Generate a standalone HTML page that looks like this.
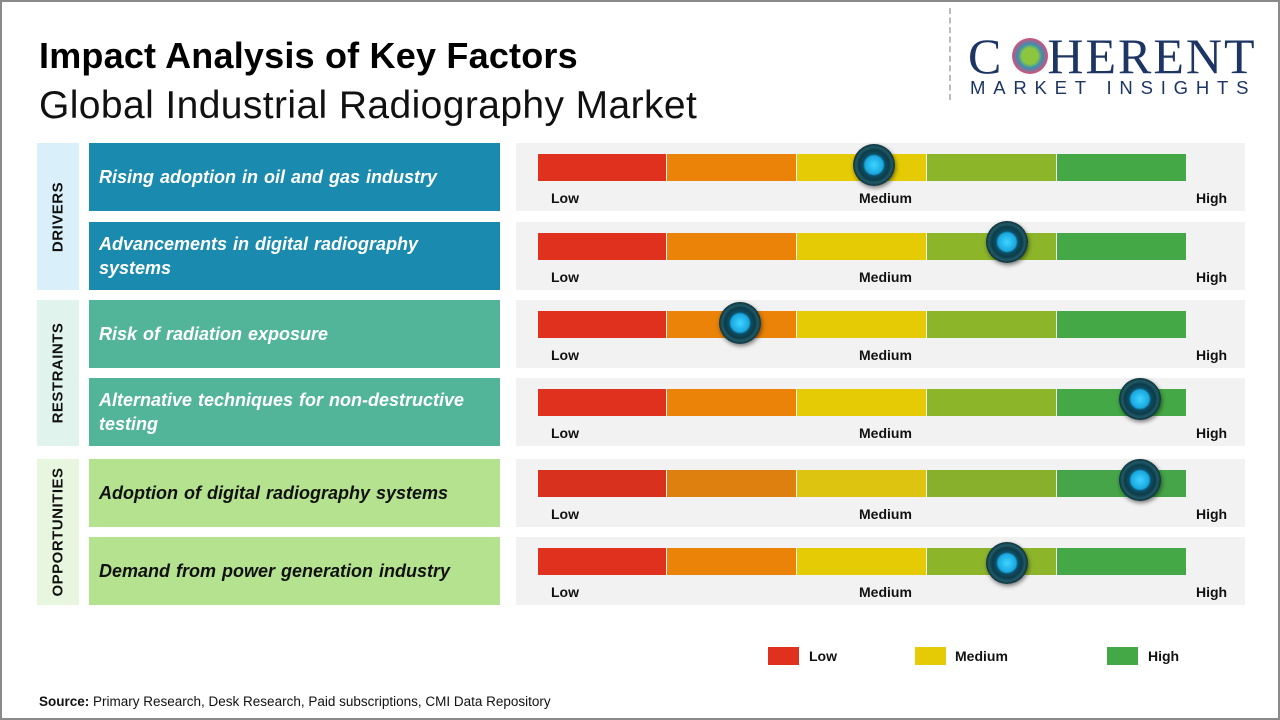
<!DOCTYPE html>
<html><head><meta charset="utf-8"><style>
*{margin:0;padding:0;box-sizing:border-box}
body{width:1280px;height:720px;position:relative;background:#fff;font-family:"Liberation Sans",sans-serif;overflow:hidden}
.frame{position:absolute;left:0;top:0;width:1280px;height:720px;border:2px solid #8a8a8a}
.a{position:absolute}
.cat{position:absolute;left:37px;width:42px}
.cat span{position:absolute;left:50%;top:50%;transform:translate(-50%,-50%) rotate(-90deg);font-weight:bold;font-size:15px;color:#111;white-space:nowrap;letter-spacing:0.5px}
.box{position:absolute;left:89px;width:411px;height:68px;display:flex;align-items:center;padding-left:10px;padding-right:10px;font-style:italic;font-weight:bold;font-size:18px;line-height:24px;word-spacing:1px}
.panel{position:absolute;left:516px;width:729px;height:68px;background:#f2f2f2}
.seg{position:absolute;top:11px;height:27px}
.lbl{position:absolute;top:47px;font-weight:bold;font-size:14px;color:#111}
.knob{position:absolute;width:42px;height:42px;border-radius:50%;background:radial-gradient(circle at 50% 50%,#3fd4ff 0,#1aa8e0 9px,#0c4f66 11px,#0e3b48 15px,#1f5a66 18px,#0c2e38 21px);box-shadow:1px 2px 4px rgba(0,0,0,.5)}
</style></head><body>
<div class="frame"></div>
<div class="a" style="left:39px;top:35px;font-size:36px;font-weight:bold;color:#000;letter-spacing:0.2px">Impact Analysis of Key Factors</div>
<div class="a" style="left:39px;top:84px;font-size:39px;color:#111;letter-spacing:0.4px">Global Industrial Radiography Market</div>
<div class="a" style="left:949px;top:8px;height:92px;border-left:2px dashed #bbb"></div>
<div class="a" style="left:968px;top:28px;font-family:'Liberation Serif',serif;font-size:50px;color:#1c3563;letter-spacing:2px;line-height:56px">C<span style="display:inline-block;width:44px"></span>HERENT</div>
<div class="a" style="left:1012px;top:38px;width:36px;height:36px;border-radius:50%;background:radial-gradient(circle,#8cc63f 0,#8cc63f 8px,#3b8fb0 12px,#d94f7a 18px,transparent 19px)"></div>
<div class="a" style="left:970px;top:77px;font-size:18.5px;color:#1c3563;letter-spacing:7.8px">MARKET INSIGHTS</div>

<div class="cat" style="top:143px;height:147px;background:#d9eff9"><span>DRIVERS</span></div>
<div class="cat" style="top:300px;height:146px;background:#e0f3ec"><span>RESTRAINTS</span></div>
<div class="cat" style="top:459px;height:146px;background:#e9f6df"><span>OPPORTUNITIES</span></div>

<div class="box" style="top:143px;background:#1a8aae;color:#fff">Rising adoption in oil and gas industry</div>
<div class="box" style="top:222px;background:#1a8aae;color:#fff">Advancements in digital radiography systems</div>
<div class="box" style="top:300px;background:#52b59a;color:#fff">Risk of radiation exposure</div>
<div class="box" style="top:378px;background:#52b59a;color:#fff">Alternative techniques for non-destructive testing</div>
<div class="box" style="top:459px;background:#b5e28f;color:#111">Adoption of digital radiography systems</div>
<div class="box" style="top:537px;background:#b5e28f;color:#111">Demand from power generation industry</div>

<div class="panel" style="top:143px"><div class="seg" style="left:22px;width:128px;background:#e0301e"></div><div class="seg" style="left:151px;width:129px;background:#ea8308"></div><div class="seg" style="left:281px;width:129px;background:#e5cb05"></div><div class="seg" style="left:411px;width:129px;background:#8db52a"></div><div class="seg" style="left:541px;width:129px;background:#44a846"></div><div class="lbl" style="left:35px">Low</div><div class="lbl" style="left:343px">Medium</div><div class="lbl" style="left:680px">High</div><div class="knob" style="left:337px;top:1px"></div></div>
<div class="panel" style="top:222px"><div class="seg" style="left:22px;width:128px;background:#e0301e"></div><div class="seg" style="left:151px;width:129px;background:#ea8308"></div><div class="seg" style="left:281px;width:129px;background:#e5cb05"></div><div class="seg" style="left:411px;width:129px;background:#8db52a"></div><div class="seg" style="left:541px;width:129px;background:#44a846"></div><div class="lbl" style="left:35px">Low</div><div class="lbl" style="left:343px">Medium</div><div class="lbl" style="left:680px">High</div><div class="knob" style="left:470px;top:-1px"></div></div>
<div class="panel" style="top:300px"><div class="seg" style="left:22px;width:128px;background:#e0301e"></div><div class="seg" style="left:151px;width:129px;background:#ea8308"></div><div class="seg" style="left:281px;width:129px;background:#e5cb05"></div><div class="seg" style="left:411px;width:129px;background:#8db52a"></div><div class="seg" style="left:541px;width:129px;background:#44a846"></div><div class="lbl" style="left:35px">Low</div><div class="lbl" style="left:343px">Medium</div><div class="lbl" style="left:680px">High</div><div class="knob" style="left:203px;top:2px"></div></div>
<div class="panel" style="top:378px"><div class="seg" style="left:22px;width:128px;background:#e0301e"></div><div class="seg" style="left:151px;width:129px;background:#ea8308"></div><div class="seg" style="left:281px;width:129px;background:#e5cb05"></div><div class="seg" style="left:411px;width:129px;background:#8db52a"></div><div class="seg" style="left:541px;width:129px;background:#44a846"></div><div class="lbl" style="left:35px">Low</div><div class="lbl" style="left:343px">Medium</div><div class="lbl" style="left:680px">High</div><div class="knob" style="left:603px;top:0px"></div></div>
<div class="panel" style="top:459px"><div class="seg" style="left:22px;width:128px;background:#d8321f"></div><div class="seg" style="left:151px;width:129px;background:#dd8010"></div><div class="seg" style="left:281px;width:129px;background:#dcc410"></div><div class="seg" style="left:411px;width:129px;background:#88b02c"></div><div class="seg" style="left:541px;width:129px;background:#45a548"></div><div class="lbl" style="left:35px">Low</div><div class="lbl" style="left:343px">Medium</div><div class="lbl" style="left:680px">High</div><div class="knob" style="left:603px;top:0px"></div></div>
<div class="panel" style="top:537px"><div class="seg" style="left:22px;width:128px;background:#e0301e"></div><div class="seg" style="left:151px;width:129px;background:#ea8308"></div><div class="seg" style="left:281px;width:129px;background:#e5cb05"></div><div class="seg" style="left:411px;width:129px;background:#8db52a"></div><div class="seg" style="left:541px;width:129px;background:#44a846"></div><div class="lbl" style="left:35px">Low</div><div class="lbl" style="left:343px">Medium</div><div class="lbl" style="left:680px">High</div><div class="knob" style="left:470px;top:5px"></div></div>

<div class="a" style="left:768px;top:647px;width:31px;height:18px;background:#e0301e"></div>
<div class="a" style="left:809px;top:648px;font-size:14px;font-weight:bold;color:#111">Low</div>
<div class="a" style="left:915px;top:647px;width:31px;height:18px;background:#e5cb05"></div>
<div class="a" style="left:955px;top:648px;font-size:14px;font-weight:bold;color:#111">Medium</div>
<div class="a" style="left:1107px;top:647px;width:31px;height:18px;background:#44a846"></div>
<div class="a" style="left:1148px;top:648px;font-size:14px;font-weight:bold;color:#111">High</div>

<div class="a" style="left:39px;top:694px;font-size:13.5px;color:#111"><b>Source:</b> Primary Research, Desk Research, Paid subscriptions, CMI Data Repository</div>
</body></html>
